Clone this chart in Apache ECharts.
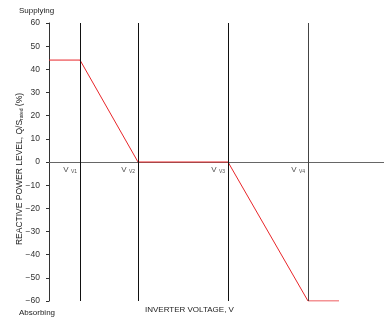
<!DOCTYPE html>
<html>
<head>
<meta charset="utf-8">
<script src="https://cdn.jsdelivr.net/npm/echarts@6/dist/echarts.min.js"></script>
<style>
  html, body { margin: 0; padding: 0; background: #fff; }
  #chart { width: 384px; height: 320px; }
</style>
</head>
<body>
<div id="chart"></div>
<script>
// voltage positions (arbitrary units along the x axis)
var vNames = ['V1', 'V2', 'V3', 'V4'];
var vPos = [31, 89, 179, 259];
// reactive power curve, % of rated
var curveX = [0, 31, 89, 179, 259, 290];
var curveY = [44, 44, 0, 0, -60, -60];
var yTicks = [-60, 60, 10];

var font = 'Liberation Sans, Arial, sans-serif';
var chart = echarts.init(document.getElementById('chart'));

var curve = curveX.map(function (x, i) { return [x, curveY[i]]; });
var vLines = vPos.map(function (x, i) {
    return {
        xAxis: x,
        lineStyle: { color: i === 3 ? '#444' : '#111', width: 1, type: 'solid' }
    };
});
var vLabels = vPos.map(function (x, i) {
    return { value: [x, 0], name: vNames[i] };
});

chart.setOption({
    animation: false,
    grid: { left: 49, right: 0, top: 23, bottom: 19, outerBoundsMode: 'none', containLabel: false },
    xAxis: {
        type: 'value',
        min: 0,
        max: 335,
        axisLine: { onZero: true, lineStyle: { color: '#666', width: 1 } },
        axisTick: { show: false },
        axisLabel: { show: false },
        splitLine: { show: false }
    },
    yAxis: {
        type: 'value',
        min: yTicks[0],
        max: yTicks[1],
        interval: yTicks[2],
        axisLine: { show: true, lineStyle: { color: '#333', width: 1 } },
        axisTick: { show: true, length: 3, lineStyle: { color: '#333' } },
        axisLabel: {
            color: '#333', fontSize: 8.5, fontFamily: font, margin: 9,
            formatter: function (v) { return v < 0 ? '\u2212' + (-v) : String(v); }
        },
        splitLine: { show: false },
        name: '{a|REACTIVE POWER LEVEL, Q/S}{b|rated}{a| (%)}',
        nameLocation: 'middle',
        nameGap: 25,
        nameRotate: 90,
        nameMoveOverlap: false,
        nameTextStyle: {
            padding: [0, 14, 0, 0],
            rich: {
                a: { fontSize: 8.5, color: '#222', fontFamily: font },
                b: { fontSize: 5, color: '#222', fontFamily: font, verticalAlign: 'bottom', padding: [3, 0, 0, 0] }
            }
        }
    },
    graphic: [
        { type: 'text', left: 19, top: 7, style: { text: 'Supplying', fontSize: 8, fill: '#222', fontFamily: font } },
        { type: 'text', left: 19, top: 309, style: { text: 'Absorbing', fontSize: 8, fill: '#222', fontFamily: font } },
        { type: 'text', left: 145, top: 306, style: { text: 'INVERTER VOLTAGE, V', fontSize: 8, fill: '#222', fontFamily: font } }
    ],
    series: [
        {
            type: 'line',
            data: curve,
            symbol: 'none',
            lineStyle: { color: '#e8262a', width: 1 },
            z: 3,
            markLine: {
                silent: true,
                symbol: 'none',
                label: { show: false },
                data: vLines
            }
        },
        {
            type: 'scatter',
            data: vLabels,
            symbolSize: 0,
            label: {
                show: true,
                position: 'left',
                distance: 3,
                offset: [0, 8],
                formatter: function (p) { return '{a|V }{b|' + p.name + '}'; },
                rich: {
                    a: { fontSize: 8, color: '#222', fontFamily: font },
                    b: { fontSize: 5, color: '#222', fontFamily: font, verticalAlign: 'bottom', padding: [3, 0, 0, 0] }
                }
            }
        }
    ]
});
</script>
</body>
</html>
